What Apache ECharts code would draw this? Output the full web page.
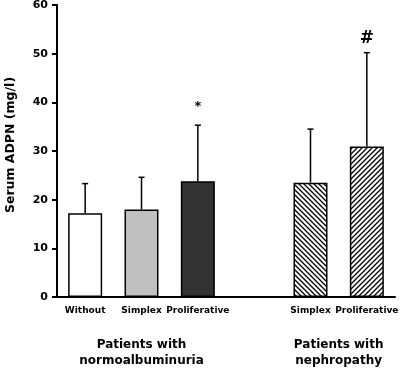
<!DOCTYPE html>
<html>
<head>
<meta charset="utf-8">
<script src="https://cdn.jsdelivr.net/npm/echarts@6/dist/echarts.min.js"></script>
<style>
  html, body { margin: 0; padding: 0; background: #fff; }
  #chart { width: 404px; height: 369px; }
</style>
</head>
<body>
<div id="chart"></div>
<script>
// data
const categories = ['Without', 'Simplex', 'Proliferative', '', 'Simplex', 'Proliferative']
const means = [17.2, 18.0, 23.8, null, 23.5, 30.9]
const sds = [6.1, 6.6, 11.5, null, 11.0, 19.3]
const marks = ['', '', '*', '', '', '#']
const groupNames = ['Patients with\nnormoalbuminuria', 'Patients with\nnephropathy']
const groupCenters = [1, 4.5]   // category index under each group label
const yTicks = [0, 10, 20, 30, 40, 50, 60]

const FONT = 'DejaVu Sans'

// diagonal hatch pattern for the nephropathy bars
function hatch(dir) {
  const s = 5
  const c = document.createElement('canvas')
  c.width = s
  c.height = s
  const g = c.getContext('2d')
  g.fillStyle = '#fff'
  g.fillRect(0, 0, s, s)
  g.strokeStyle = '#000'
  g.lineWidth = 1.3
  g.beginPath()
  if (dir === 'back') {
    g.moveTo(-1, -1); g.lineTo(s + 1, s + 1)
    g.moveTo(-2, s - 2); g.lineTo(2, s + 2)
    g.moveTo(s - 2, -2); g.lineTo(s + 2, 2)
  } else {
    g.moveTo(-1, s + 1); g.lineTo(s + 1, -1)
    g.moveTo(-2, 2); g.lineTo(2, -2)
    g.moveTo(s - 2, s + 2); g.lineTo(s + 2, s - 2)
  }
  g.stroke()
  return { image: c, repeat: 'repeat' }
}

const fills = ['#ffffff', '#c0c0c0', '#333333', '#ffffff', hatch('back'), hatch('fwd')]

const chart = echarts.init(document.getElementById('chart'), null, { renderer: 'canvas' })

const barData = means.map((m, i) => m == null ? '-' : {
  value: m,
  itemStyle: { color: fills[i], borderColor: '#000', borderWidth: 1.5 }
})

const errData = []
means.forEach((m, i) => {
  if (m != null) errData.push([i, m, m + sds[i], marks[i]])
})

const option = {
  animation: false,
  grid: { left: 57, right: 9, top: 5, bottom: 72, containLabel: false, outerBoundsMode: 'none' },
  xAxis: {
    type: 'category',
    data: categories,
    axisLine: { lineStyle: { color: '#000', width: 2 } },
    axisTick: { show: false },
    axisLabel: {
      color: '#000', fontFamily: FONT, fontWeight: 'bold', fontSize: 9,
      margin: 9, interval: 0
    }
  },
  yAxis: {
    type: 'value',
    min: yTicks[0],
    max: yTicks[yTicks.length - 1],
    interval: 10,
    name: 'Serum ADPN (mg/l)',
    nameLocation: 'middle',
    nameGap: 40,
    nameTextStyle: { color: '#000', fontFamily: FONT, fontWeight: 'bold', fontSize: 12.5, padding: [0, 0, 0, 12] },
    axisLine: { show: true, lineStyle: { color: '#000', width: 2 } },
    axisTick: { show: true, length: 5, lineStyle: { color: '#000', width: 2 } },
    axisLabel: { color: '#000', fontFamily: FONT, fontWeight: 'bold', fontSize: 11, margin: 9 },
    splitLine: { show: false }
  },
  series: [
    {
      type: 'bar',
      data: barData,
      barWidth: 34,
      z: 2
    },
    {
      type: 'custom',
      data: errData,
      z: 1,
      renderItem(params, api) {
        const i = api.value(0)
        const lo = api.coord([i, api.value(1)])
        const hi = api.coord([i, api.value(2)])
        const mark = errData[params.dataIndex][3]
        const style = { stroke: '#000', lineWidth: 1.5 }
        const children = [
          { type: 'line', shape: { x1: lo[0], y1: lo[1], x2: hi[0], y2: hi[1] }, style },
          { type: 'line', shape: { x1: hi[0] - 3, y1: hi[1], x2: hi[0] + 3, y2: hi[1] }, style }
        ]
        if (mark) {
          children.push({
            type: 'text',
            style: {
              text: mark, x: hi[0], y: mark === '*' ? hi[1] - 12 : hi[1] - 6,
              align: 'center', verticalAlign: 'bottom',
              font: 'bold ' + (mark === '*' ? 13 : 17) + 'px ' + FONT, fill: '#000'
            }
          })
        }
        return { type: 'group', children }
      }
    }
  ]
}

chart.setOption(option)

// group captions under the category labels
const graphics = groupNames.map((name, k) => {
  const idx = groupCenters[k]
  const a = chart.convertToPixel({ xAxisIndex: 0 }, Math.floor(idx))
  const b = chart.convertToPixel({ xAxisIndex: 0 }, Math.ceil(idx))
  const x = (a + b) / 2
  return {
    type: 'text',
    x: x,
    y: 337,
    style: {
      text: name, align: 'center', verticalAlign: 'top',
      font: 'bold 12px ' + FONT, fill: '#000', lineHeight: 16
    }
  }
})
chart.setOption({ graphic: graphics })
</script>
</body>
</html>
